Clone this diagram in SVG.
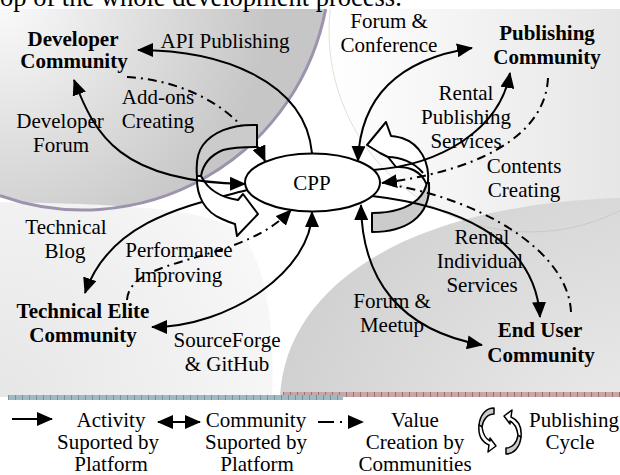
<svg xmlns="http://www.w3.org/2000/svg" width="620" height="475" viewBox="0 0 620 475" font-family="Liberation Serif, Tinos, Noto Serif, DejaVu Serif, FreeSerif, serif">
<defs>
<style>
text{font-family:"Liberation Serif",Tinos,"Noto Serif","DejaVu Serif",FreeSerif,"Times New Roman",Times,serif;font-size:21px;fill:#000;text-anchor:middle}
.b{font-weight:bold}
.ln{fill:none;stroke:#000;stroke-width:2}
.dd{stroke-dasharray:9 5 2 5}
.cyc{stroke:#000;stroke-width:2;stroke-linejoin:round}
.gr{fill:#cbcbcb}
.wh{fill:#ffffff}
</style>
<radialGradient id="gTL" gradientUnits="userSpaceOnUse" cx="0" cy="0" r="270"><stop offset="0" stop-color="#fbfbfb"/><stop offset="1" stop-color="#c6c6c6"/></radialGradient>
<linearGradient id="gTR" gradientUnits="userSpaceOnUse" x1="330" y1="0" x2="620" y2="0"><stop offset="0" stop-color="#ffffff"/><stop offset="1" stop-color="#e6e6e6"/></linearGradient>
<radialGradient id="gBL" gradientUnits="userSpaceOnUse" cx="0" cy="397" r="300"><stop offset="0" stop-color="#e6e6e6"/><stop offset="1" stop-color="#f8f8f8"/></radialGradient>
<radialGradient id="gBR" gradientUnits="userSpaceOnUse" cx="640" cy="480" r="420"><stop offset="0" stop-color="#efefef"/><stop offset="1" stop-color="#cdcdcd"/></radialGradient>
<marker id="ah" markerUnits="userSpaceOnUse" markerWidth="16" markerHeight="14" refX="15" refY="7" orient="auto"><path d="M0,0 L16,7 L0,14 Z" fill="#000"/></marker>
<marker id="ahs" markerUnits="userSpaceOnUse" markerWidth="16" markerHeight="14" refX="15" refY="7" orient="auto-start-reverse"><path d="M0,0 L16,7 L0,14 Z" fill="#000"/></marker>
<g id="iconPiece">
<path class="gr" stroke="#000" stroke-width="1.5" stroke-linejoin="round" d="M -6,-23 C -14,-23 -20,-16 -21,-6 L -18,-4 C -17,-12 -12,-17 -6,-17 Z"/>
<path class="wh" stroke="#000" stroke-width="1.5" stroke-linejoin="round" d="M -21,-6 C -22,4 -18,11 -11,14 L -12,21 L -4,15 L -10,7 L -10,10 C -14,8 -17,3 -18,-4 Z"/>
</g>
</defs>

<g id="background">
<rect x="0" y="0" width="620" height="475" fill="#ffffff"/>
<path d="M 0,9 L 325.7,9 A 247 247 0 0 1 0,195.6 Z" fill="url(#gTL)"/>
<path d="M 330.2,9 L 620,9 L 620,210.7 A 201 201 0 0 1 330.2,9 Z" fill="url(#gTR)"/>
<path d="M 0,202 C 100,204 190,206 230,226 C 265,246 275,320 272,397 L 0,397 Z" fill="url(#gBL)"/>
<path d="M 280,397 C 285,290 400,205 620,198 L 620,397 Z" fill="url(#gBR)"/>
<path d="M 325.7,9 A 247 247 0 0 1 0,195.6" fill="none" stroke="#9d93ad" stroke-width="3"/>
<path d="M 620,210.7 A 201 201 0 0 1 330.2,9" fill="none" stroke="#b4b494" stroke-width="1" opacity="0.4"/>
<rect x="283" y="392" width="337" height="5" fill="#c6a6a6"/>
<line x1="283" y1="394.5" x2="620" y2="394.5" stroke="#9a6f6f" stroke-width="5" stroke-dasharray="1 6"/>
<rect x="8" y="395" width="335" height="5" fill="#9fbac2"/>
<line x1="8" y1="397.5" x2="343" y2="397.5" stroke="#6f949e" stroke-width="5" stroke-dasharray="1 6"/>
<text x="0" y="6" style="font-size:26.5px;text-anchor:start">op of the whole development process.</text>
</g>

<g id="connectors-behind">
<path class="ln dd" d="M 127,77 C 180,80 240,105 265,161" marker-end="url(#ah)"/>
<path class="ln" d="M 247,190 C 190,205 110,220 85,293" marker-end="url(#ah)"/>
</g>

<g id="publishing-cycle">
<path class="gr cyc" d="M 257,125 C 230,124 212,133 203,145 C 197,153 196,165 197,176 L 201,176 C 203,164 211,155 223,150 C 234,147 245,147 257,147 Z"/>
<path class="wh cyc" d="M 197,176 C 196,196 205,212 222,219 C 227,221 231,223 235,224 L 237,236 L 258,214 L 243,194 L 238,200 C 222,198 208,190 201,176 Z"/>
<path class="gr cyc" d="M 372,213 C 392,213 408,208 418,199 C 423,194 426,188 427,182 L 429,183 C 430,198 425,212 413,221 C 402,229 388,232 372,232 Z"/>
<path class="wh cyc" d="M 428,183 C 430,162 420,144 402,138 C 398,137 394,136 391,136 L 386,122 L 367,145 L 380,153 L 388,157 L 396,167 C 410,166 421,172 426,183 Z"/>
<path class="ln" d="M 388,157 C 400,157 414,162 423,173"/>
</g>

<g id="cpp">
<ellipse cx="312.5" cy="182.5" rx="67.5" ry="29" fill="#ffffff" stroke="#000" stroke-width="2"/>
<text x="312" y="190">CPP</text>
</g>

<g id="connectors">
<path class="ln" d="M 312,153 C 305,80 220,50 138,50" marker-end="url(#ah)"/>
<path class="ln" d="M 74,80 C 95,135 120,182 245,184" marker-start="url(#ahs)" marker-end="url(#ahs)"/>
<path class="ln dd" d="M 127,300 C 130,255 240,265 291,210" marker-end="url(#ah)"/>
<path class="ln" d="M 312,212 C 312,270 230,327 152,327" marker-start="url(#ahs)" marker-end="url(#ahs)"/>
<path class="ln" d="M 358,161 C 360,100 395,60 472,48" marker-start="url(#ahs)" marker-end="url(#ahs)"/>
<path class="ln" d="M 373,170 C 440,165 500,130 510,73" marker-end="url(#ah)"/>
<path class="ln dd" d="M 548,78 C 545,140 470,172 382,183" marker-end="url(#ah)"/>
<path class="ln" d="M 372,196 C 450,205 535,235 540,317" marker-end="url(#ah)"/>
<path class="ln" d="M 361,205 C 362,280 400,330 482,345" marker-start="url(#ahs)" marker-end="url(#ahs)"/>
<path class="ln dd" d="M 571,312 C 568,250 480,200 392,185"/>
</g>

<g id="connector-labels">
<text x="225" y="48">API Publishing</text>
<text x="158" y="104">Add-ons</text>
<text x="158" y="128">Creating</text>
<text x="60" y="128">Developer</text>
<text x="61" y="152">Forum</text>
<text x="66" y="234">Technical</text>
<text x="65" y="258">Blog</text>
<text x="179" y="257">Performanee</text>
<text x="178" y="282">Improving</text>
<text x="227" y="347">SourceForge</text>
<text x="227" y="371">&amp; GitHub</text>
<text x="389" y="28">Forum &amp;</text>
<text x="389" y="52">Conference</text>
<text x="466" y="100">Rental</text>
<text x="466" y="124">Publishing</text>
<text x="466" y="148">Services</text>
<text x="524" y="173">Contents</text>
<text x="524" y="197">Creating</text>
<text x="482" y="244">Rental</text>
<text x="480" y="268">Individual</text>
<text x="482" y="292">Services</text>
<text x="392" y="308">Forum &amp;</text>
<text x="392" y="332">Meetup</text>
</g>

<g id="developer-community">
<text class="b" x="73" y="46">Developer</text>
<text class="b" x="74" y="68">Community</text>
</g>
<g id="publishing-community">
<text class="b" x="547" y="40">Publishing</text>
<text class="b" x="547" y="64">Community</text>
</g>
<g id="technical-elite-community">
<text class="b" x="83" y="318">Technical Elite</text>
<text class="b" x="83" y="342">Community</text>
</g>
<g id="end-user-community">
<text class="b" x="540" y="337">End User</text>
<text class="b" x="541" y="362">Community</text>
</g>

<g id="legend">
<path class="ln" d="M 12,419 L 52,419" marker-end="url(#ah)"/>
<text x="111" y="427">Activity</text>
<text x="108" y="449">Suported by</text>
<text x="111" y="471">Platform</text>
<path class="ln" d="M 158,422 L 200,422" marker-start="url(#ahs)" marker-end="url(#ahs)"/>
<text x="256" y="427">Community</text>
<text x="256" y="449">Suported by</text>
<text x="257" y="471">Platform</text>
<path class="ln" d="M 318,422 L 363,422" style="stroke-dasharray:16 6 2 30" marker-end="url(#ah)"/>
<text x="415" y="427">Value</text>
<text x="415" y="449">Creation by</text>
<text x="415" y="471">Communities</text>
<use href="#iconPiece" transform="translate(500,431)"/>
<use href="#iconPiece" transform="translate(500,431) rotate(180)"/>
<text x="574" y="427">Publishing</text>
<text x="570" y="449">Cycle</text>
</g>
</svg>
